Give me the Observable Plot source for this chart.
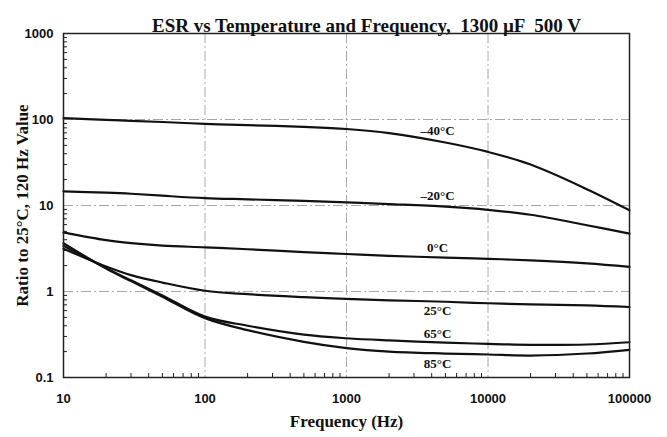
<!DOCTYPE html>
<html>
<head>
<meta charset="utf-8">
<script src="https://cdn.jsdelivr.net/npm/d3@7"></script>
<script src="https://cdn.jsdelivr.net/npm/@observablehq/plot@0.6"></script>
<style>
  html, body { margin: 0; padding: 0; background: #fff; }
  #chart svg { display: block; }
</style>
</head>
<body>
<div id="chart"></div>
<script>
const titleText = "ESR vs Temperature and Frequency,  1300 \u00B5F  500 V";
const xLabel = "Frequency (Hz)";
const yLabel = "Ratio to 25\u00B0C, 120 Hz Value";

const freq = [10, 20, 30, 50, 100, 200, 500, 1000, 2000, 5000, 10000, 20000, 50000, 100000];
const tM40 = [104, 99, 96.5, 93.5, 89, 86, 82, 77.5, 69.5, 54, 42, 30, 15.5, 8.8];
const tM20 = [14.6, 14.1, 13.7, 13.0, 12.2, 11.8, 11.3, 10.9, 10.4, 9.7, 8.9, 7.8, 5.9, 4.7];
const t0   = [4.87, 3.95, 3.65, 3.42, 3.26, 3.1, 2.87, 2.73, 2.6, 2.48, 2.4, 2.3, 2.12, 1.93];
const t25  = [3.15, 1.95, 1.55, 1.27, 1.02, 0.93, 0.86, 0.82, 0.79, 0.76, 0.73, 0.71, 0.69, 0.66];
const t65  = [3.4, 1.87, 1.35, 0.9, 0.51, 0.40, 0.315, 0.286, 0.27, 0.255, 0.246, 0.24, 0.242, 0.257];
const t85  = [3.65, 1.85, 1.32, 0.87, 0.49, 0.355, 0.26, 0.22, 0.2, 0.19, 0.185, 0.18, 0.19, 0.21];

const seriesNames = ["\u201340\u00B0C", "\u201320\u00B0C", "0\u00B0C", "25\u00B0C", "65\u00B0C", "85\u00B0C"];
const seriesValues = [tM40, tM20, t0, t25, t65, t85];

// curve labels: frequency and ratio where each label sits
const labelFreq = [4400, 4400, 4400, 4400, 4400, 4400];
const labelVal = [73, 13.1, 3.18, 0.59, 0.323, 0.145];

const xTicks = [10, 100, 1000, 10000, 100000];
const yTicks = [0.1, 1, 10, 100, 1000];
const minorMult = [2, 3, 4, 5, 6, 7, 8, 9];
const xMinor = xTicks.slice(0, -1).flatMap(d => minorMult.map(m => d * m));
const yMinor = yTicks.slice(0, -1).flatMap(d => minorMult.map(m => d * m));

const rows = seriesNames.flatMap((name, i) => freq.map((f, j) => ({series: name, f, v: seriesValues[i][j]})));
const labels = seriesNames.map((name, i) => ({name, f: labelFreq[i], v: labelVal[i]}));

const W = 667, H = 437;
const mL = 63, mR = 38, mT = 33, mB = 60;
const fw = W - mL - mR, fh = H - mT - mB;

const sans = "'Liberation Sans', Arial, sans-serif";
const serif = "'Liberation Serif', 'Times New Roman', serif";

const chart = Plot.plot({
  width: W,
  height: H,
  marginLeft: mL,
  marginRight: mR,
  marginTop: mT,
  marginBottom: mB,
  style: {background: "#fff", color: "#111"},
  x: {type: "log", domain: [10, 100000]},
  y: {type: "log", domain: [0.1, 1000]},
  marks: [
    Plot.ruleX(xTicks, {stroke: "#a8a8a8", strokeWidth: 1, strokeDasharray: "10,3,2,3"}),
    Plot.ruleY(yTicks, {stroke: "#a8a8a8", strokeWidth: 1, strokeDasharray: "10,3,2,3"}),
    Plot.ruleX(xMinor, {stroke: "#222", strokeWidth: 1, insetTop: fh - 4}),
    Plot.ruleY(yMinor, {stroke: "#222", strokeWidth: 1, insetRight: fw - 4}),
    Plot.line(rows, {x: "f", y: "v", z: "series", stroke: "#111", strokeWidth: 2.2, curve: "catmull-rom"}),
    Plot.text(labels, {x: "f", y: "v", text: "name", fontFamily: serif, fontWeight: "bold", fontSize: 13, fill: "#111"}),
    Plot.frame({stroke: "#222", strokeWidth: 1.5}),
    Plot.axisX(xTicks, {tickSize: 0, tickPadding: 16, tickFormat: d => String(d), fontFamily: sans, fontWeight: "bold", fontSize: 13, label: null}),
    Plot.axisY(yTicks, {tickSize: 0, tickPadding: 10, tickFormat: d => String(d), fontFamily: sans, fontWeight: "bold", fontSize: 13, label: null}),
    Plot.text([titleText], {frameAnchor: "top", dy: -15, dx: 20, text: d => d, fontFamily: serif, fontWeight: "bold", fontSize: 19, fill: "#111"}),
    Plot.text([xLabel], {frameAnchor: "bottom", dy: 49, text: d => d, fontFamily: serif, fontWeight: "bold", fontSize: 17, fill: "#111"}),
    Plot.text([yLabel], {frameAnchor: "left", textAnchor: "middle", dx: -41, dy: 0, rotate: -90, text: d => d, fontFamily: serif, fontWeight: "bold", fontSize: 17, fill: "#111"})
  ]
});
document.getElementById("chart").appendChild(chart);
</script>
</body>
</html>
